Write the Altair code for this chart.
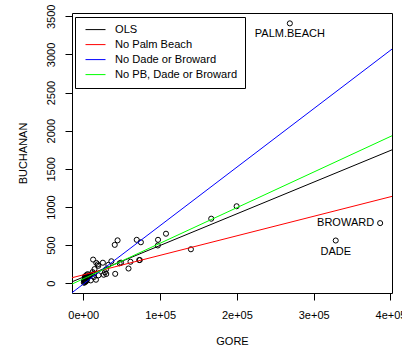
import altair as alt
import pandas as pd

county = ["ALACHUA","BAKER","BAY","BRADFORD","BREVARD","BROWARD","CALHOUN","CHARLOTTE",
          "CITRUS","CLAY","COLLIER","COLUMBIA","DADE","DE.SOTO","DIXIE","DUVAL","ESCAMBIA",
          "FLAGLER","FRANKLIN","GADSDEN","GILCHRIST","GLADES","GULF","HAMILTON","HARDEE",
          "HENDRY","HERNANDO","HIGHLANDS","HILLSBOROUGH","HOLMES","INDIAN.RIVER","JACKSON",
          "JEFFERSON","LAFAYETTE","LAKE","LEE","LEON","LEVY","LIBERTY","MADISON","MANATEE",
          "MARION","MARTIN","MONROE","NASSAU","OKALOOSA","OKEECHOBEE","ORANGE","OSCEOLA",
          "PALM.BEACH","PASCO","PINELLAS","POLK","PUTNAM","ST.JOHNS","ST.LUCIE","SANTA.ROSA",
          "SARASOTA","SEMINOLE","SUMTER","SUWANNEE","TAYLOR","UNION","VOLUSIA","WAKULLA",
          "WALTON","WASHINGTON"]
gore = [47300,2392,18850,3072,97318,386518,2155,29641,25501,14630,29905,7047,328702,3320,
        1826,107680,40958,13891,2041,9735,1910,1420,2389,1718,2341,3239,32644,14152,166581,
        2177,19769,6868,3038,788,36555,73560,61425,5403,1011,3011,49169,44648,26619,16483,
        6952,16924,4588,140115,28177,268945,69576,199660,74977,12091,19509,41559,12795,72854,
        58888,9634,4084,2649,1399,97063,3835,5637,2796]
buchanan = [262,73,248,65,570,789,90,182,270,186,122,89,561,36,29,650,504,83,33,38,29,9,71,
            23,30,22,242,127,847,76,105,102,29,10,289,305,282,67,39,29,271,563,112,47,90,267,
            43,446,145,3407,570,1010,538,147,229,124,311,305,194,114,108,27,37,496,46,120,88]

models = ["OLS", "No Palm Beach", "No Dade or Broward", "No PB, Dade or Broward"]
excluded = [[], ["PALM.BEACH"], ["DADE", "BROWARD"], ["PALM.BEACH", "DADE", "BROWARD"]]
colors = ["#000000", "#FF0000", "#0000FF", "#00FF00"]
labels_below = ["PALM.BEACH", "DADE"]
labels_left = ["BROWARD"]

x_ticks = [0, 100000, 200000, 300000, 400000]
y_ticks = [0, 500, 1000, 1500, 2000, 2500, 3000, 3500]
x_dom = [-14700, 401960]
y_dom = [-127, 3543]

pts = pd.DataFrame({"county": county, "GORE": gore, "BUCHANAN": buchanan})
rows = []
for m, ex in zip(models, excluded):
    sub = pts[~pts["county"].isin(ex)].copy()
    sub["model"] = m
    rows.append(sub)
fitdf = pd.concat(rows, ignore_index=True)

FONT = "Liberation Sans"
xs = alt.Scale(domain=x_dom, nice=False, zero=False)
ys = alt.Scale(domain=y_dom, nice=False, zero=False)


def xenc():
    return alt.X("GORE:Q", scale=xs, title="GORE",
                 axis=alt.Axis(values=x_ticks, labelOverlap=False, labelPadding=9,
                               titlePadding=15,
                               labelExpr="replace(format(datum.value, '.0e'), 'e+', 'e+0')"))


def yenc():
    return alt.Y("BUCHANAN:Q", scale=ys, title="BUCHANAN",
                 axis=alt.Axis(values=y_ticks, format="d", labelOverlap=False,
                               labelAngle=270, labelAlign="center",
                               labelBaseline="bottom", labelPadding=9,
                               titlePadding=17))


points = alt.Chart(pts).mark_point(shape="circle", filled=False, color="black",
                                   size=26, strokeWidth=1, opacity=1).encode(
    x=xenc(), y=yenc())

lines = alt.Chart(fitdf).transform_regression(
    "GORE", "BUCHANAN", groupby=["model"], extent=x_dom
).mark_line(strokeWidth=1, clip=True).encode(
    x=xenc(), y=yenc(),
    color=alt.Color("model:N", scale=alt.Scale(domain=models, range=colors),
                    sort=models,
                    legend=alt.Legend(orient="none", legendX=3, legendY=4, title=None,
                                      strokeColor="black", fillColor="white",
                                      padding=7, symbolOffset=3, clipHeight=11.2,
                                      symbolType="stroke", symbolSize=400,
                                      symbolStrokeWidth=1, labelOffset=9,
                                      labelFont=FONT, labelFontSize=11.1,
                                      labelColor="black", rowPadding=2,
                                      cornerRadius=0)),
)

txt_below = alt.Chart(pts).transform_filter(
    alt.FieldOneOfPredicate(field="county", oneOf=labels_below)
).mark_text(align="center", baseline="top", dy=5, font=FONT, fontSize=11,
            color="black").encode(x=xenc(), y=yenc(), text="county:N")

txt_left = alt.Chart(pts).transform_filter(
    alt.FieldOneOfPredicate(field="county", oneOf=labels_left)
).mark_text(align="right", baseline="middle", dx=-6, font=FONT, fontSize=11,
            color="black").encode(x=xenc(), y=yenc(), text="county:N")

chart = alt.layer(points, lines, txt_below, txt_left).properties(
    width=320, height=280,
    autosize=alt.AutoSizeParams(type="none"),
    padding={"left": 72, "top": 13, "right": 10, "bottom": 57},
    background="white",
).configure_view(stroke="black", strokeWidth=1).configure_axis(
    domain=False, grid=False, tickColor="black", tickSize=7, tickWidth=1,
    labelFont=FONT, labelFontSize=11, labelColor="black",
    titleFont=FONT, titleFontSize=11, titleFontWeight="normal", titleColor="black",
)

chart.save("out.html", embed_options={"renderer": "svg", "actions": False})
